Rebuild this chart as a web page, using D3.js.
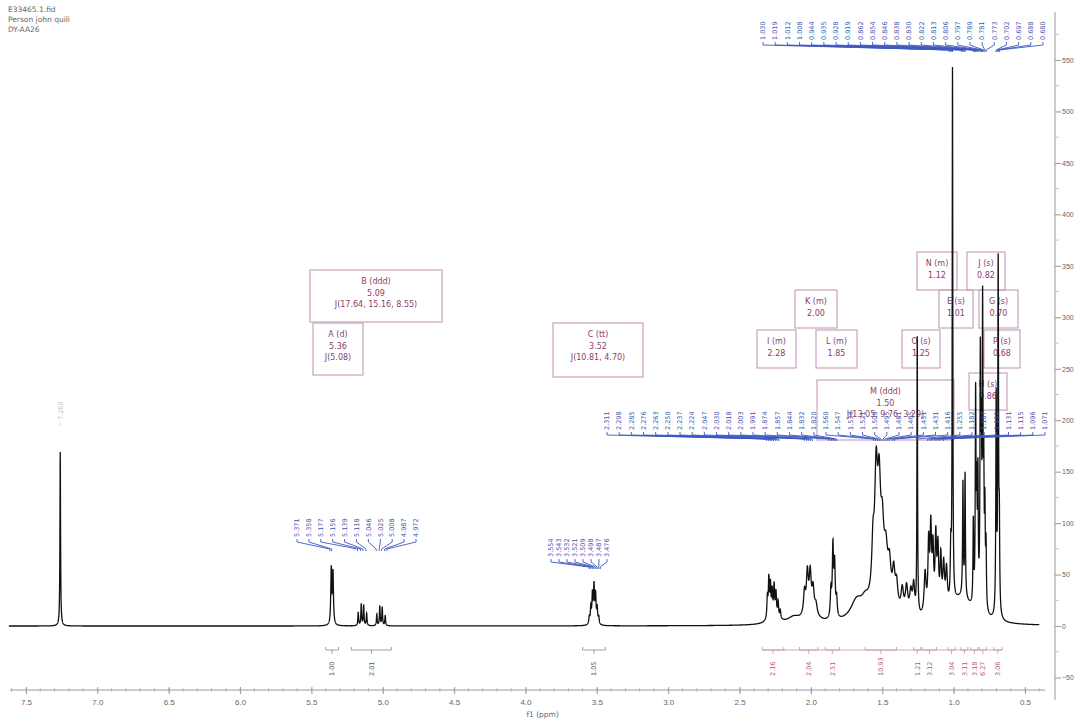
<!DOCTYPE html>
<html><head><meta charset="utf-8">
<script src="https://cdn.jsdelivr.net/npm/d3@7"></script>
<style>body{margin:0;background:#fff}svg{display:block;font-family:"DejaVu Sans",sans-serif}</style>
</head><body><svg id="c" width="1081" height="720"></svg>
<script>
// ---- header / file info ----
const fileInfo = ["E33465.1.fid", "Person john quili", "DY-AA26"];

// ---- axes ----
const xTickValues = [7.5, 7.0, 6.5, 6.0, 5.5, 5.0, 4.5, 4.0, 3.5, 3.0, 2.5, 2.0, 1.5, 1.0, 0.5];
const yTickValues = [-50000, 0, 50000, 100000, 150000, 200000, 250000, 300000, 350000, 400000, 450000, 500000, 550000];
const xAxisTitle = "f1 (ppm)";

// ---- resonances: [shift ppm, height, half-width ppm] ----
const solventPeaks = [[7.26, 169000, 0.0025]];
const peaksA = [[5.361, 54000, 0.004], [5.349, 50000, 0.004]];
const peaksB = [[5.172, 13000, 0.003], [5.151, 21000, 0.003], [5.134, 20000, 0.003], [5.113, 12000, 0.003],
                [5.042, 11000, 0.003], [5.021, 19000, 0.003], [5.004, 18000, 0.003], [4.983, 10000, 0.003]];
const peaksC = [[3.553, 7000, 0.004], [3.542, 16000, 0.004], [3.531, 28000, 0.004], [3.520, 36000, 0.004],
                [3.509, 27000, 0.004], [3.498, 15000, 0.004], [3.487, 7000, 0.004]];
const peaksI = [[2.305, 21000, 0.004], [2.295, 37000, 0.004], [2.284, 30000, 0.004], [2.272, 23000, 0.004],
                [2.258, 28000, 0.004], [2.245, 22000, 0.004], [2.230, 15000, 0.004], [2.215, 8000, 0.004], [2.26, 8000, 0.04]];
const peaksK = [[2.045, 22000, 0.008], [2.025, 38000, 0.008], [2.005, 36000, 0.008], [1.985, 22000, 0.008],
                [1.965, 10000, 0.01], [2.0, 10000, 0.05], [2.12, 6000, 0.05]];
const peaksL = [[1.860, 26000, 0.005], [1.846, 68000, 0.005], [1.834, 50000, 0.005], [1.820, 18000, 0.005]];
const peaksHump = [[1.68, 18000, 0.05], [1.62, 10000, 0.03]];
const peaksM = [[1.565, 45000, 0.01], [1.543, 110000, 0.012], [1.522, 90000, 0.012], [1.500, 50000, 0.012],
                [1.475, 36000, 0.014], [1.450, 30000, 0.012], [1.420, 30000, 0.01], [1.400, 22000, 0.01], [1.50, 30000, 0.08]];
const peaksMid = [[1.36, 22000, 0.01], [1.33, 26000, 0.01], [1.30, 22000, 0.01], [1.28, 28000, 0.008]];
const peaksO = [[1.255, 270000, 0.0025]];
const peaksN = [[1.20, 40000, 0.008], [1.175, 66000, 0.006], [1.160, 78000, 0.006], [1.145, 58000, 0.006],
                [1.125, 70000, 0.006], [1.110, 58000, 0.006], [1.090, 50000, 0.006], [1.070, 42000, 0.007], [1.050, 36000, 0.007]];
const peaksE = [[1.008, 515000, 0.0025], [1.020, 50000, 0.004]];
const peaksH = [[0.935, 110000, 0.003], [0.920, 120000, 0.003]];
const peaksJ = [[0.862, 80000, 0.003], [0.846, 200000, 0.003], [0.838, 100000, 0.003], [0.830, 120000, 0.003],
                [0.813, 230000, 0.003], [0.806, 140000, 0.003], [0.797, 280000, 0.003], [0.789, 120000, 0.003],
                [0.781, 90000, 0.003], [0.773, 60000, 0.003]];
const peaksP = [[0.702, 210000, 0.003], [0.688, 340000, 0.003], [0.680, 80000, 0.003]];
const peaksBase = [[0.95, 25000, 0.1]];

// ---- peak-pick labels ----
const pickTop = [1.030, 1.019, 1.012, 1.008, 0.944, 0.935, 0.928, 0.919, 0.862, 0.854, 0.846, 0.838,
                 0.830, 0.822, 0.813, 0.806, 0.797, 0.789, 0.781, 0.773, 0.702, 0.697, 0.688, 0.680];
const pickMid = [2.311, 2.298, 2.285, 2.276, 2.263, 2.250, 2.237, 2.224, 2.047, 2.030, 2.018, 2.003, 1.991,
                 1.874, 1.857, 1.844, 1.832, 1.820, 1.560, 1.547, 1.534, 1.521, 1.509, 1.495, 1.481, 1.465,
                 1.451, 1.431, 1.416, 1.255, 1.182, 1.167, 1.152, 1.131, 1.115, 1.096, 1.071];
const pickOlefin = [5.371, 5.358, 5.177, 5.156, 5.139, 5.118, 5.046, 5.025, 5.008, 4.987, 4.972];
const pickCarbinol = [3.554, 3.543, 3.532, 3.521, 3.509, 3.498, 3.487, 3.476];
const pickSolvent = [7.260];

// ---- multiplet reports ----
const multiplets = [
  {lines: ["B (ddd)", "5.09", "J(17.64, 15.16, 8.55)"], box: [310, 270, 442, 322]},
  {lines: ["A (d)", "5.36", "J(5.08)"], box: [313, 323, 363, 375]},
  {lines: ["C (tt)", "3.52", "J(10.81, 4.70)"], box: [553, 323, 643, 377]},
  {lines: ["I (m)", "2.28"], box: [757, 330, 796, 368]},
  {lines: ["K (m)", "2.00"], box: [795, 290, 837, 328]},
  {lines: ["L (m)", "1.85"], box: [816, 330, 857, 368]},
  {lines: ["M (ddd)", "1.50", "J(13.05, 9.76, 3.29)"], box: [817, 380, 954, 440]},
  {lines: ["N (m)", "1.12"], box: [917, 252, 957, 290]},
  {lines: ["J (s)", "0.82"], box: [967, 252, 1005, 290]},
  {lines: ["E (s)", "1.01"], box: [939, 290, 973, 328]},
  {lines: ["G (s)", "0.70"], box: [979, 290, 1018, 328]},
  {lines: ["O (s)", "1.25"], box: [902, 330, 940, 368]},
  {lines: ["P (s)", "0.68"], box: [984, 330, 1020, 368]},
  {lines: ["H (s)", "0.86"], box: [969, 373, 1007, 410]}
];

// ---- integrals: [from ppm, to ppm, value] ----
const integralsLeft = [[5.40, 5.31, "1.00"], [5.22, 4.94, "2.01"], [3.60, 3.44, "1.05"]];
const integralsRight = [[2.34, 2.19, "2.16"], [2.08, 1.95, "2.04"], [1.90, 1.80, "2.51"], [1.62, 1.40, "10.93"],
                        [1.28, 1.23, "1.21"], [1.22, 1.12, "3.12"], [1.04, 0.99, "3.04"], [0.95, 0.90, "3.11"],
                        [0.88, 0.83, "3.18"], [0.82, 0.77, "6.27"], [0.72, 0.66, "3.06"]];

// ================= drawing =================
const svg = d3.select("#c");
const x = d3.scaleLinear().domain([7.5, 0.5]).range([26, 1025]);
const y = d3.scaleLinear().domain([-50000, 550000]).range([677.5, 60]);

// header text
svg.append("g").selectAll("text").data(fileInfo).join("text")
  .attr("x", 8).attr("y", (d, i) => 12 + i * 10)
  .attr("font-size", 7.5).attr("fill", "#666").text(d => d);

// multiplet boxes (under the trace)
const mg = svg.append("g");
multiplets.forEach(m => {
  const [x0, y0, x1, y1] = m.box;
  mg.append("rect").attr("x", x0).attr("y", y0).attr("width", x1 - x0).attr("height", y1 - y0)
    .attr("fill", "none").attr("stroke", "#c8a2bc").attr("stroke-width", 1.2);
  m.lines.forEach((t, i) => {
    mg.append("text").attr("x", (x0 + x1) / 2).attr("y", y0 + 14 + i * 11.5)
      .attr("text-anchor", "middle").attr("font-size", 8).attr("fill", "#8a3d6c").text(t);
  });
});

// spectrum trace built from the resonance table
const allPeaks = [].concat(solventPeaks, peaksA, peaksB, peaksC, peaksI, peaksK, peaksL, peaksHump, peaksM,
  peaksMid, peaksO, peaksN, peaksE, peaksH, peaksJ, peaksP, peaksBase);
const grid = d3.range(7.62, 0.40, -0.0006);
const trace = grid.map(p => [p, d3.sum(allPeaks, ([c, h, w]) => h * w * w / ((p - c) * (p - c) + w * w))]);
svg.append("path").datum(trace)
  .attr("d", d3.line().x(d => x(d[0])).y(d => y(d[1])))
  .attr("fill", "none").attr("stroke", "#111").attr("stroke-width", 1.3);

// peak-pick labels with leader lines
function pickGroup(vals, lx0, lx1, yBottom, drop, color, lineColor) {
  const g = svg.append("g");
  const n = vals.length;
  vals.forEach((v, i) => {
    const lx = n > 1 ? lx0 + i * (lx1 - lx0) / (n - 1) : lx0;
    g.append("text").attr("transform", `translate(${lx},${yBottom}) rotate(-90)`)
      .attr("dy", "0.35em").attr("font-size", 6.5).attr("fill", color).text(v.toFixed(3));
    const px = x(v);
    g.append("path")
      .attr("d", `M${lx},${yBottom + 2}V${yBottom + 5}L${px},${yBottom + drop}V${yBottom + drop + 2}`)
      .attr("fill", "none").attr("stroke", lineColor).attr("stroke-width", 0.9);
  });
}
pickGroup(pickTop, 763, 1043, 40, 10, "#3a55b0", "#3d58c0");
pickGroup(pickMid, 607, 1045, 430, 9, "#3a55b0", "#3d58c0");
pickGroup(pickOlefin, 297, 416, 537, 12, "#3a55b0", "#3d58c0");
pickGroup(pickCarbinol, 551, 607, 557, 10, "#3a55b0", "#3d58c0");
pickGroup(pickSolvent, x(7.26), x(7.26), 420, 4, "#c4c4c4", "#dddddd");

// integrals
function integralGroup(list, color, textColor, joined) {
  const g = svg.append("g");
  if (joined) {
    g.append("line").attr("x1", x(list[0][0])).attr("x2", x(list[list.length - 1][1]))
      .attr("y1", 650).attr("y2", 650).attr("stroke", color).attr("stroke-width", 0.8);
  }
  list.forEach(([a, b, v]) => {
    const xa = x(a), xb = x(b), xm = (xa + xb) / 2;
    g.append("path").attr("d", `M${xa},647V650H${xb}V647M${xm},650V654`)
      .attr("fill", "none").attr("stroke", color).attr("stroke-width", 0.8);
    g.append("text").attr("transform", `translate(${xm},676) rotate(-90)`)
      .attr("dy", "0.35em").attr("font-size", 6.5).attr("fill", textColor).text(v);
  });
}
integralGroup(integralsLeft, "#888", "#555", false);
integralGroup(integralsRight, "#c792ae", "#b5577f", true);

// bottom axis
const xAxis = d3.axisBottom(x).tickValues(xTickValues).tickFormat(d3.format(".1f")).tickSize(4);
const gx = svg.append("g").attr("transform", "translate(0,690)").call(xAxis);
gx.select(".domain").attr("d", "M10,0H1045").attr("stroke", "#999");
gx.selectAll(".tick line").attr("stroke", "#999").attr("y1", -3);
gx.selectAll(".tick text").attr("font-size", 8).attr("fill", "#666").attr("y", 9);
svg.append("g").selectAll("line").data(d3.range(7.6, 0.39, -0.1)).join("line")
  .attr("x1", d => x(d)).attr("x2", d => x(d)).attr("y1", 688).attr("y2", 692)
  .attr("stroke", "#aaa").attr("stroke-width", 0.7);
svg.append("text").attr("x", x(3.88)).attr("y", 717).attr("text-anchor", "middle")
  .attr("font-size", 7.5).attr("fill", "#666").text(xAxisTitle);

// right axis (intensity shown in thousands)
const yAxis = d3.axisRight(y).tickValues(yTickValues).tickFormat(d => d3.format("d")(d / 1000)).tickSize(6);
const gy = svg.append("g").attr("transform", "translate(1055,0)").call(yAxis);
gy.select(".domain").attr("d", "M0,12V700").attr("stroke", "#999");
gy.selectAll(".tick line").attr("stroke", "#999");
gy.selectAll(".tick text").attr("font-size", 7).attr("fill", "#666").attr("x", 7);
svg.append("g").selectAll("line").data(d3.range(-25000, 575001, 50000)).join("line")
  .attr("x1", 1055).attr("x2", 1059).attr("y1", d => y(d)).attr("y2", d => y(d))
  .attr("stroke", "#aaa").attr("stroke-width", 0.7);
</script></body></html>
